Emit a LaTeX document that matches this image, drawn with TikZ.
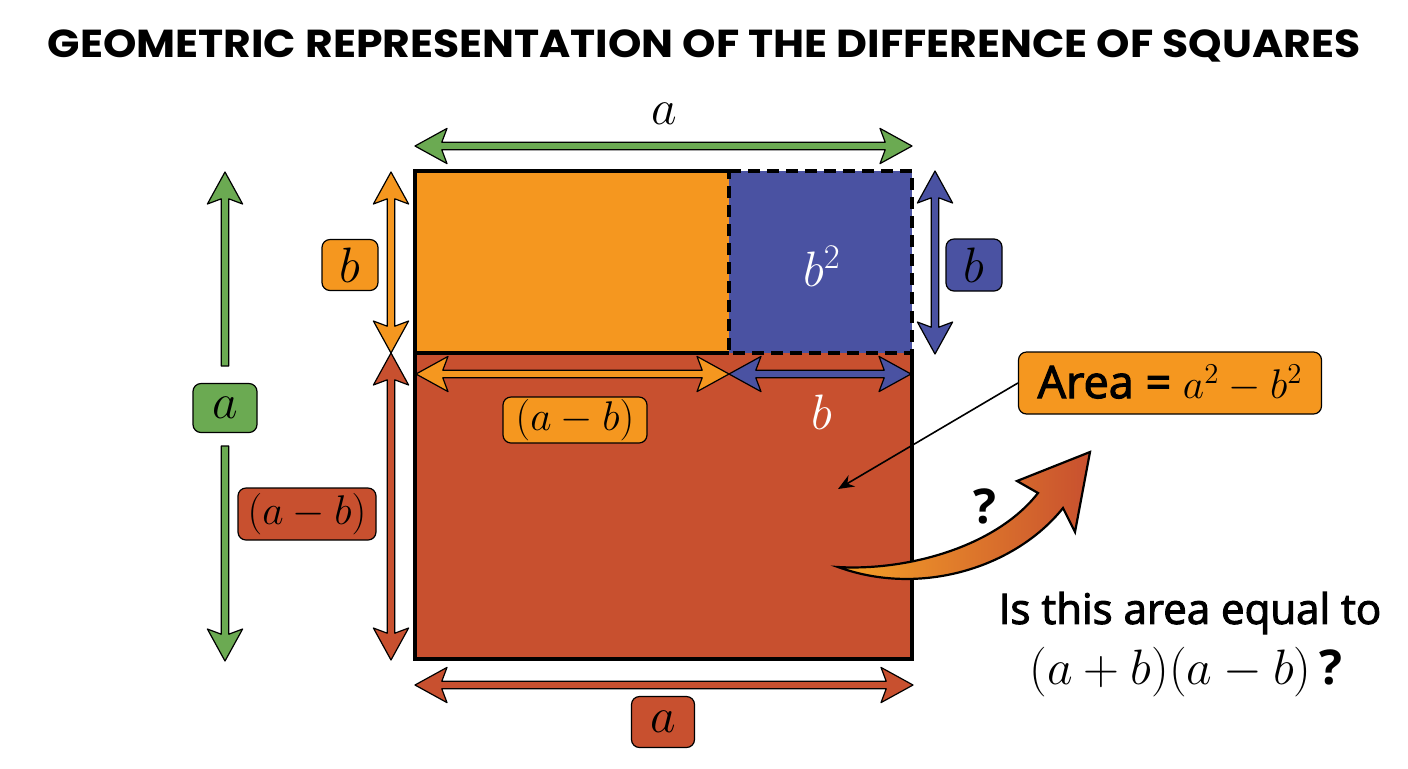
\documentclass[tikz,border=0pt]{standalone}
\usepackage{fontspec}
\setmainfont{Open Sans}
\newfontfamily\titlefont{Poppins}
\newfontfamily\semib{Open Sans}[FakeBold=2.5]
\usetikzlibrary{calc,arrows.meta}
\definecolor{myorange}{HTML}{F5971F}
\definecolor{myred}{HTML}{C8502F}
\definecolor{myblue}{HTML}{4A52A2}
\definecolor{mygreen}{HTML}{6BAA52}
\definecolor{arrowlight}{HTML}{F5A227}
\def\AL{16}\def\AH{8.8}\def\AW{1.9}\def\AN{2.6}
\newcommand\ap[2]{({\x1+(#1)*(\n2)-(#2)*(\n3)},{\y1+(#1)*(\n3)+(#2)*(\n2)})}
\newcommand\dblarrow[3]{%
  \path[fatarrow=#1] let \p1=(#2), \p2=(#3), \n1={veclen(\x2-\x1,\y2-\y1)},
    \n2={(\x2-\x1)/\n1}, \n3={(\y2-\y1)/\n1} in
    \ap{0}{0} -- \ap{\AL}{\AH} -- \ap{\AL-\AN}{\AW} -- \ap{\n1-\AL+\AN}{\AW}
    -- \ap{\n1-\AL}{\AH} -- \ap{\n1}{0} -- \ap{\n1-\AL}{-\AH}
    -- \ap{\n1-\AL+\AN}{-\AW} -- \ap{\AL-\AN}{-\AW} -- \ap{\AL}{-\AH} -- cycle;}
\newcommand\sglarrow[3]{%
  \path[fatarrow=#1] let \p1=(#2), \p2=(#3), \n1={veclen(\x2-\x1,\y2-\y1)},
    \n2={(\x2-\x1)/\n1}, \n3={(\y2-\y1)/\n1} in
    \ap{0}{\AW} -- \ap{\n1-\AL+\AN}{\AW} -- \ap{\n1-\AL}{\AH} -- \ap{\n1}{0}
    -- \ap{\n1-\AL}{-\AH} -- \ap{\n1-\AL+\AN}{-\AW} -- \ap{0}{-\AW} -- cycle;}
\newcommand\mathsz{\fontsize{23}{27}\selectfont}
\newcommand\mathsm{\fontsize{21}{25}\selectfont}
\tikzset{
  fatarrow/.style={draw=black, fill=#1, line width=0.6pt, line join=round},
  lab/.style={draw=black, line width=0.6pt, rounded corners=4pt, inner sep=0pt, font=\mathsz},
  bord/.style={draw=black, line width=2pt},
  dashbord/.style={draw=black, line width=2pt, dash pattern=on 6pt off 3.5pt},
}
\begin{document}
\begin{tikzpicture}[x=0.5pt,y=-0.5pt]
\useasboundingbox (0,0) rectangle (1408,768);
% title
\node (title) at (704,46) {\scalebox{1.09}[1]{\titlefont\bfseries\fontsize{19.5}{23}\selectfont GEOMETRIC REPRESENTATION OF THE DIFFERENCE OF SQUARES}};
% square corners
\coordinate (TL) at (415,171);
\coordinate (TM) at (729,171);
\coordinate (TR) at (912,171);
\coordinate (ML) at (415,353);
\coordinate (MM) at (729,353);
\coordinate (MR) at (912,353);
\coordinate (BL) at (415,659);
\coordinate (BR) at (912,659);
\fill[myorange] (TL) rectangle (MM);
\fill[myblue] (TM) rectangle (MR);
\fill[myred] (ML) rectangle (BR);
\draw[bord] (TM) -- (TL) -- (BL) -- (BR) -- (MR);
\draw[bord] (ML) -- (MM);
\draw[dashbord] (TM) -- (TR) -- (MR) -- (MM) -- cycle;
% dimension arrow end points
\coordinate (gt1) at (415,146); \coordinate (gt2) at (912,146);
\coordinate (gu1) at (225,366); \coordinate (gu2) at (225,172);
\coordinate (gd1) at (225,446); \coordinate (gd2) at (225,661);
\coordinate (ov1) at (391,172); \coordinate (ov2) at (391,353);
\coordinate (rv1) at (391,353); \coordinate (rv2) at (391,660);
\coordinate (oh1) at (416,374); \coordinate (oh2) at (729,374);
\coordinate (bh1) at (729,374); \coordinate (bh2) at (911,374);
\coordinate (bv1) at (935,171); \coordinate (bv2) at (935,354);
\coordinate (rb1) at (415,685); \coordinate (rb2) at (913,685);
\dblarrow{mygreen}{gt1}{gt2}
\sglarrow{mygreen}{gu1}{gu2}
\sglarrow{mygreen}{gd1}{gd2}
\dblarrow{myorange}{ov1}{ov2}
\dblarrow{myred}{rv1}{rv2}
\dblarrow{myorange}{oh1}{oh2}
\dblarrow{myblue}{bh1}{bh2}
\dblarrow{myblue}{bv1}{bv2}
\dblarrow{myred}{rb1}{rb2}
% labels
\node[font=\mathsz] (atop) at (664,114) {$a$};
\node[lab, fill=myorange, minimum width=28pt, minimum height=25.5pt] (bo) at (350,265) {$b$};
\node[font=\mathsz, text=white] (bsq) at (822,266) {$b^2$};
\node[lab, fill=myblue, minimum width=28pt, minimum height=26pt] (bb) at (974,265) {$b$};
\node[lab, fill=mygreen, minimum width=32pt, minimum height=24.5pt] (ag) at (225,408) {$a$};
\node[lab, fill=myorange, minimum width=72pt, minimum height=23pt, font=\mathsm] (abo) at (575,420) {$(a-b)$};
\node[font=\mathsz, text=white] (bw) at (822,412) {$b$};
\node[lab, fill=myred, minimum width=69pt, minimum height=26pt, font=\mathsm] (abr) at (307,514) {$(a-b)$};
\node[lab, fill=myred, minimum width=31.5pt, minimum height=25.5pt] (ar) at (663,722) {$a$};
\node[lab, fill=myorange, minimum width=151.5pt, minimum height=31pt, font=\fontsize{22.5}{26}\selectfont] (area) at (1170,383) {{\semib Area =} $a^2-b^2$};
% callout
\coordinate (ptr) at (838,489);
\draw[line width=0.8pt, -{Stealth[length=8pt,width=6.5pt]}] (area.west) -- (ptr);
% curved arrow
\path[draw=black, line width=1.1pt, line join=miter, left color=arrowlight, right color=myred]
  (838,567) .. controls (905,571) and (995,548) .. (1038,493)
  -- (1017,481) -- (1090,452) -- (1075,532) -- (1063,508)
  .. controls (1015,568) and (920,597) .. (838,567) -- cycle;
\node[font=\bfseries\fontsize{24}{28}\selectfont] (qm) at (985,506) {?};
% question
\node[font=\semib\fontsize{21}{25}\selectfont] (q1) at (1190,613) {Is this area equal to};
\node[font=\fontsize{24}{28}\selectfont] (q2) at (1186,672) {$(a+b)(a-b)$\,\textbf{?}};
\end{tikzpicture}
\end{document}
